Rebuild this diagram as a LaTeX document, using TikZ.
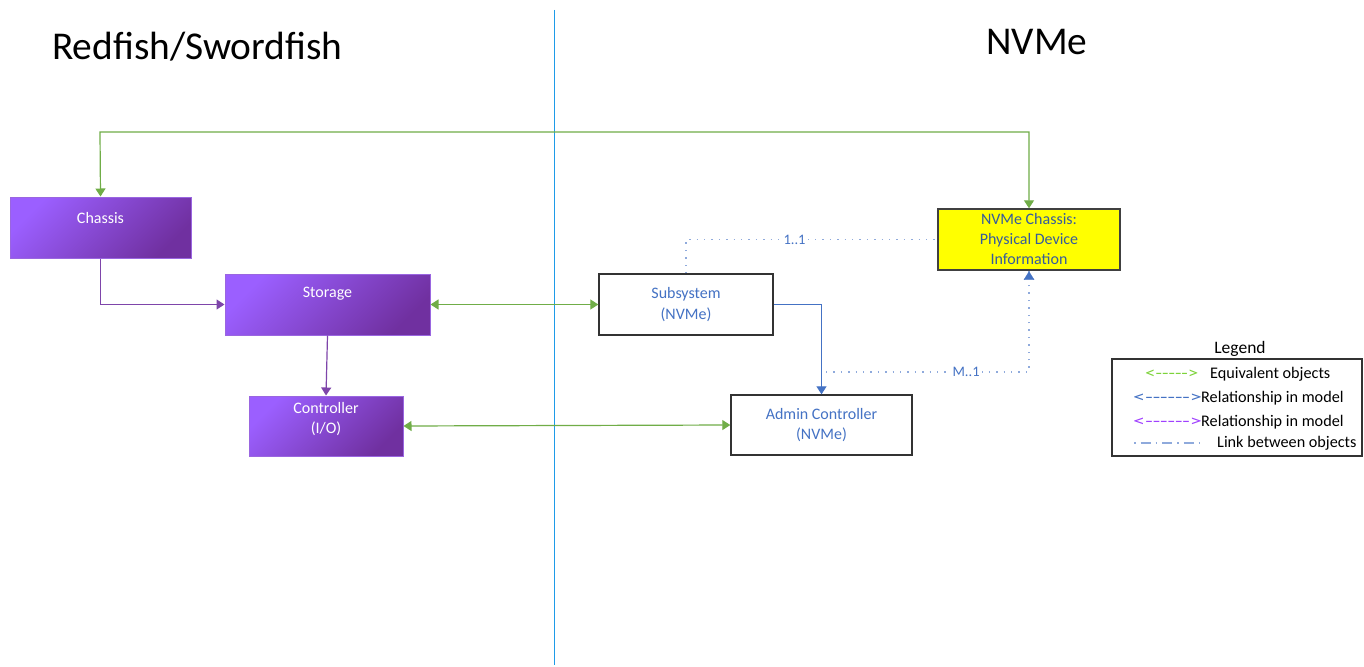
\documentclass[tikz,border=0pt]{standalone}
\usepackage{fontspec}
\setmainfont{Carlito}
\usetikzlibrary{arrows.meta}
\definecolor{gr}{HTML}{70AD47}
\definecolor{lgr}{HTML}{7DD33A}
\definecolor{bl}{HTML}{4472C4}
\definecolor{lbl}{HTML}{8FAADC}
\definecolor{pl}{HTML}{9B5FFF}
\definecolor{pd}{HTML}{7030A0}
\definecolor{pb}{HTML}{9A66E0}
\definecolor{lpu}{HTML}{A040FF}
\definecolor{vl}{HTML}{1E9BE8}
\definecolor{ylw}{HTML}{FFFF00}
\tikzset{
  purp/.style={draw=pb, line width=1pt, top color=pl, bottom color=pd, shading angle=45,
    text=white, font=\fontsize{16}{20}\selectfont, align=center, inner sep=0pt},
  wbox/.style={draw=black!80, line width=1.4pt, fill=white, text=bl,
    font=\fontsize{16}{20.5}\selectfont, align=center, inner sep=0pt},
  ybox/.style={draw=black!75, line width=1.4pt, fill=ylw, text=bl!80!black,
    font=\fontsize{16}{20}\selectfont, align=center, inner sep=0pt},
  tip/.style={-{Triangle[width=10pt,length=8pt]}},
  dtip/.style={{Triangle[width=10pt,length=8pt]}-{Triangle[width=10pt,length=8pt]}},
  grline/.style={draw=gr, line width=1.2pt},
  puline/.style={draw=pd!90, line width=1.2pt},
  blline/.style={draw=bl, line width=1.2pt},
  dotline/.style={draw=lbl, line width=1.4pt, dash pattern=on 1.4pt off 6pt},
  lab/.style={fill=white, text=bl, font=\fontsize{14.5}{16}\selectfont, inner sep=2pt},
  legtxt/.style={font=\fontsize{16.2}{18}\selectfont, text=black, anchor=west, inner sep=0pt}
}
\begin{document}
\begin{tikzpicture}[x=1pt,y=-1pt]
\useasboundingbox[fill=white] (0,0) rectangle (1364,666);
% divider
\draw[vl, line width=1pt] (554,10) -- (554,665);
% titles
\node[anchor=west, font=\fontsize{39.4}{42}\selectfont, inner sep=0pt] (t1) at (52,47) {Redfish/Swordfish};
\node[font=\fontsize{39.4}{42}\selectfont, inner sep=0pt] (t2) at (1037,42) {NVMe};
% purple boxes
\node[purp, minimum width=181pt, minimum height=61pt, text depth=19pt] (chassis) at (100.5,227.5) {Chassis};
\node[purp, minimum width=205pt, minimum height=61pt, text depth=25pt] (storage) at (327.5,304.5) {Storage};
\node[purp, minimum width=154pt, minimum height=60pt, text depth=17pt] (ctrl) at (326,426) {Controller\\(I/O)};
% NVMe boxes
\node[wbox, minimum width=174pt, minimum height=61pt] (subsys) at (686,304.5) {Subsystem\\(NVMe)};
\node[wbox, minimum width=181pt, minimum height=60pt] (admin) at (821.5,425) {Admin Controller\\(NVMe)};
\node[ybox, minimum width=182pt, minimum height=61pt] (nvch) at (1029,239.5) {NVMe Chassis:\\Physical Device\\Information};
% green top connector
\draw[grline, dtip] (chassis.north) -- (100,132) -- (1029,132) -- (nvch.north);
% purple relations
\draw[puline, tip] (chassis.south) |- (storage.west);
\draw[puline, tip] (storage.south) -- (ctrl.north);
% green equivalences
\draw[grline, dtip] (storage.east) -- (subsys.west);
\draw[grline, dtip] (ctrl.east) -- (admin.west);
% blue relationship
\draw[blline, tip] (subsys.east) -| (admin.north);
% dotted links
\draw[dotline] (subsys.north) |- node[lab, pos=0.716] (l11) {1..1} (nvch.west);
\coordinate (mstart) at (826,372);
\draw[dotline] (mstart) -- node[lab, pos=0.69] (lm1) {M..1} (1029,372) -- (nvch.south);
\draw[bl, fill=bl] (nvch.south) ++(0,1) -- ++(-5,8) -- ++(10,0) -- cycle;
% legend
\node[font=\fontsize{17.5}{19}\selectfont, inner sep=0pt] (legt) at (1240,349) {Legend};
\node[draw=black!80, line width=1.2pt, minimum width=250pt, minimum height=97pt, inner sep=0pt] (leg) at (1237,407.5) {};
\node[legtxt, text=lgr] (e1) at (1145,374) {\scalebox{1.3}[1]{<-{}-{}-{}-{}->}};
\node[legtxt] (e1t) at (1210,374) {Equivalent objects};
\node[legtxt, text=bl] (e2) at (1133,398) {\scalebox{1.5}[1]{<-{}-{}-{}-{}-{}->}};
\node[legtxt] (e2t) at (1201,398) {Relationship in model};
\node[legtxt, text=lpu] (e3) at (1133,422) {\scalebox{1.5}[1]{<-{}-{}-{}-{}-{}->}};
\node[legtxt] (e3t) at (1201,422) {Relationship in model};
\coordinate (d1) at (1134,443);
\coordinate (d2) at (1200,443);
\draw[draw=lbl, line width=1.6pt, dash pattern=on 1.6pt off 5pt on 10pt off 5pt] (d1) -- (d2);
\node[legtxt] (e4t) at (1217,443) {Link between objects};
\end{tikzpicture}
\end{document}
